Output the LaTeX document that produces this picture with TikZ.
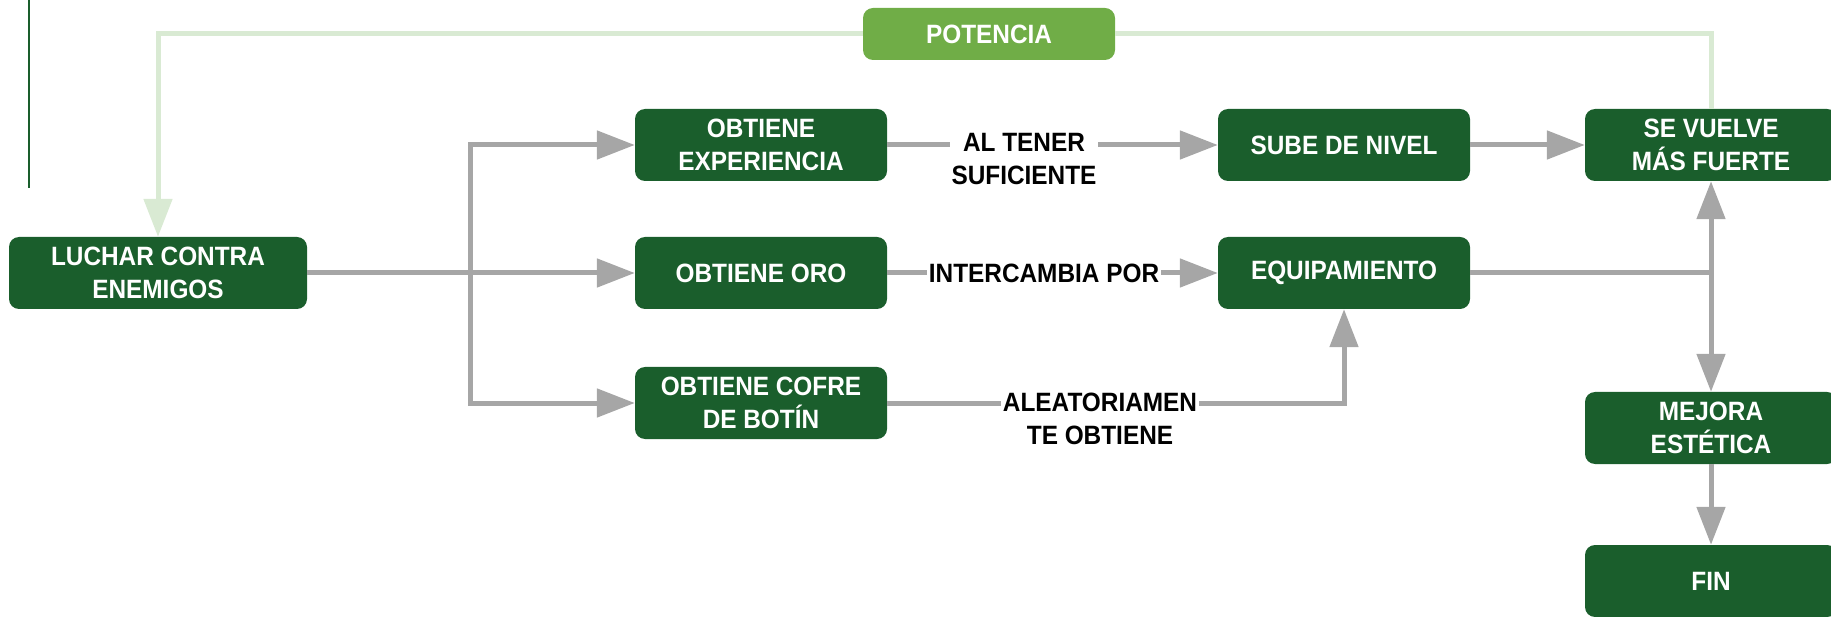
\documentclass[tikz,border=0pt]{standalone}
\usepackage{fontspec}
\setmainfont{Liberation Sans}[FakeStretch=0.92]
\usetikzlibrary{arrows.meta}
\definecolor{boxgreen}{HTML}{1A5E2C}
\definecolor{potgreen}{HTML}{70AD47}
\definecolor{paleline}{HTML}{D9EAD3}
\definecolor{linegray}{HTML}{A6A6A6}

\begin{document}
\begin{tikzpicture}[x=1pt,y=-1pt,>={Triangle[length=38pt,width=28pt]},
    font=\bfseries\fontsize{26.5}{32.3}\selectfont]
\useasboundingbox (0,0) rectangle (1831,617);

\draw[boxgreen,line width=2.5pt] (29,0) -- (29,188);

\begin{scope}[every node/.style={rectangle,rounded corners=10pt,fill=boxgreen,
    text=white,align=center,minimum width=252pt,minimum height=72pt,inner sep=0pt}]
    \node (luchar) at (158,273) [minimum width=298pt] {LUCHAR CONTRA\\ENEMIGOS};
    \node (xp) at (761,145) {OBTIENE\\EXPERIENCIA};
    \node (oro) at (761,273) {OBTIENE ORO};
    \node (cofre) at (761,403) {OBTIENE COFRE\\DE BOTÍN};
    \node (sube) at (1344,145) {SUBE DE NIVEL};
    \node (equipo) at (1344,273) {EQUIPAMIENTO};
    \node (fuerte) at (1711,145) {SE VUELVE\\MÁS FUERTE};
    \node (mejora) at (1711,428) {MEJORA\\ESTÉTICA};
    \node (fin) at (1711,581) {FIN};
    \node (potencia) at (989,34) [fill=potgreen,minimum height=52pt] {POTENCIA};
\end{scope}

% vuelta de potencia
\begin{scope}[every path/.style={draw=paleline,line width=5pt}]
    \path (fuerte.north) |- (potencia.east);
    \path [->] (potencia.west) -| (luchar.north);
\end{scope}

\coordinate (split) at (470,273);
\coordinate (join) at (1711,273);

\begin{scope}[every edge/.style={draw=linegray,line width=5pt}]
    \path [->] (luchar) edge (oro);
    \path [->] (xp) edge (sube);
    \path [->] (oro) edge (equipo);
    \path [->] (sube) edge (fuerte);
    \path [->] (mejora) edge (fin);
\end{scope}

\begin{scope}[every path/.style={draw=linegray,line width=5pt}]
    \path [->] (split) |- (xp.west);
    \path [->] (split) |- (cofre.west);
    \path [->] (cofre) -| (equipo);
    \path (equipo) -- (join);
    \path [->] (join) -- (fuerte);
    \path [->] (join) -- (mejora);
\end{scope}

\begin{scope}[every node/.style={fill=white,align=center,inner sep=2pt,text=black}]
    \node (tener) at (1024,159) {AL TENER\\SUFICIENTE};
    \node (cambia) at (1044,273) {INTERCAMBIA POR};
    \node (azar) at (1100,419) {ALEATORIAMEN\\TE OBTIENE};
\end{scope}
\end{tikzpicture}
\end{document}
